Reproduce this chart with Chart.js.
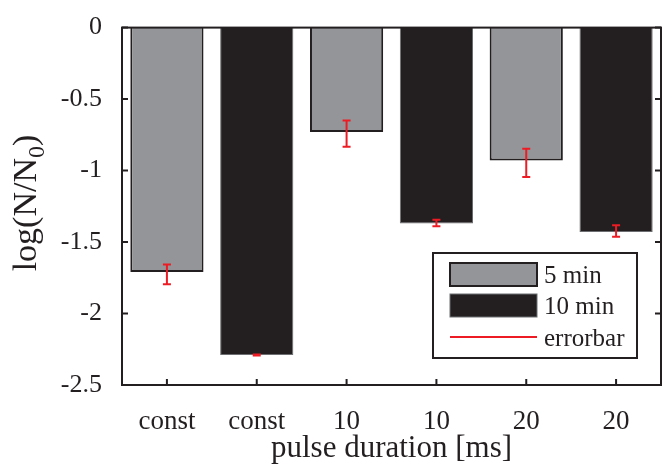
<!DOCTYPE html>
<html>
<head>
<meta charset="utf-8">
<script src="https://cdn.jsdelivr.net/npm/chart.js@4.4.1/dist/chart.umd.min.js"></script>
<style>
  html, body { margin: 0; padding: 0; background: #ffffff; }
  #wrap { width: 663px; height: 466px; }
</style>
</head>
<body>
<div id="wrap"><canvas id="c" width="663" height="466"></canvas></div>
<script>
// ---- data ----
const categories = ["const", "const", "10", "10", "20", "20"];
const values5min  = [-1.71, null, -0.73, null, -0.93, null];
const values10min = [null, -2.29, null, -1.37, null, -1.43];
const errTop    = [-1.657, -2.287, -0.650, -1.344, -0.848, -1.383];
const errBottom = [-1.795, -2.293, -0.834, -1.390, -1.045, -1.463];
const seriesLabels = ["5 min", "10 min"];
const errorLabel = "errorbar";
const yTicks = [0, -0.5, -1, -1.5, -2, -2.5];
const xTitle = "pulse duration [ms]";
const yTitleMain = "log(N/N";
const yTitleSub = "0";
const yTitleEnd = ")";

const INK = "#231f20";
const GRAY = "#939598";
const RED = "#ed1c24";
const FONT = "'Liberation Serif', 'Times New Roman', serif";

const framePlugin = {
  id: "frame",
  afterDatasetsDraw(chart) {
    const ctx = chart.ctx;
    const xs = chart.scales.x, ys = chart.scales.y;
    ctx.save();
    ctx.strokeStyle = RED;
    ctx.lineWidth = 2;
    for (let i = 0; i < categories.length; i++) {
      const x = xs.getPixelForValue(i);
      const y1 = ys.getPixelForValue(errTop[i]);
      const y2 = ys.getPixelForValue(errBottom[i]);
      ctx.beginPath();
      ctx.moveTo(x, y1); ctx.lineTo(x, y2);
      ctx.moveTo(x - 4, y1); ctx.lineTo(x + 4, y1);
      ctx.moveTo(x - 4, y2); ctx.lineTo(x + 4, y2);
      ctx.stroke();
    }
    ctx.restore();
  },
  afterDraw(chart) {
    const ctx = chart.ctx;
    const xs = chart.scales.x, ys = chart.scales.y;
    const a = chart.chartArea;
    ctx.save();
    // frame
    ctx.strokeStyle = INK;
    ctx.lineWidth = 2;
    ctx.strokeRect(a.left, a.top, a.right - a.left, a.bottom - a.top);
    // inward ticks
    ctx.beginPath();
    yTicks.forEach(v => {
      const y = ys.getPixelForValue(v);
      ctx.moveTo(a.left, y); ctx.lineTo(a.left + 6, y);
      ctx.moveTo(a.right, y); ctx.lineTo(a.right - 6, y);
    });
    for (let i = 0; i < categories.length; i++) {
      const x = xs.getPixelForValue(i);
      ctx.moveTo(x, a.bottom); ctx.lineTo(x, a.bottom - 6);
    }
    ctx.stroke();

    // axis titles
    ctx.fillStyle = INK;
    ctx.font = "31px " + FONT;
    ctx.textAlign = "center";
    ctx.textBaseline = "alphabetic";
    ctx.fillText(xTitle, (a.left + a.right) / 2, 457);

    ctx.save();
    ctx.translate(36, 203);
    ctx.rotate(-Math.PI / 2);
    ctx.textAlign = "left";
    const fMain = "34px " + FONT, fSub = "24px " + FONT;
    ctx.font = fMain; const w1 = ctx.measureText(yTitleMain).width;
    const w3 = ctx.measureText(yTitleEnd).width;
    ctx.font = fSub; const w2 = ctx.measureText(yTitleSub).width;
    let x0 = -(w1 + w2 + w3) / 2;
    ctx.font = fMain; ctx.fillText(yTitleMain, x0, 0);
    ctx.font = fSub; ctx.fillText(yTitleSub, x0 + w1, 8);
    ctx.font = fMain; ctx.fillText(yTitleEnd, x0 + w1 + w2, 0);
    ctx.restore();

    // legend
    const lx = 433, ly = 253, lw = 204, lh = 105;
    ctx.fillStyle = "#ffffff";
    ctx.fillRect(lx, ly, lw, lh);
    ctx.strokeStyle = INK;
    ctx.lineWidth = 2;
    ctx.strokeRect(lx, ly, lw, lh);
    const ds = chart.data.datasets;
    const rows = [ly + 21, ly + 52, ly + 84];
    ctx.font = "25px " + FONT;
    ctx.textAlign = "left";
    ctx.textBaseline = "alphabetic";
    for (let k = 0; k < 2; k++) {
      ctx.fillStyle = ds[k].backgroundColor;
      ctx.fillRect(450, rows[k] - 11, 87, 23);
      ctx.strokeStyle = ds[k].borderColor;
      ctx.lineWidth = k === 0 ? 2 : 1;
      ctx.strokeRect(450, rows[k] - 11, 87, 23);
      ctx.fillStyle = INK;
      ctx.fillText(ds[k].label, 544, rows[k] + 9);
    }
    ctx.strokeStyle = RED;
    ctx.lineWidth = 2;
    ctx.beginPath();
    ctx.moveTo(450, rows[2]); ctx.lineTo(537, rows[2]);
    ctx.stroke();
    ctx.fillStyle = INK;
    ctx.fillText(errorLabel, 544, rows[2] + 9);
    ctx.restore();
  }
};

new Chart(document.getElementById("c"), {
  type: "bar",
  data: {
    labels: categories,
    datasets: [
      { label: seriesLabels[0], data: values5min, backgroundColor: GRAY, borderColor: INK, borderWidth: 2 },
      { label: seriesLabels[1], data: values10min, backgroundColor: INK, borderColor: "#6d6e71", borderWidth: 1 }
    ]
  },
  options: {
    responsive: false,
    devicePixelRatio: 1,
    animation: false,
    layout: { padding: { top: 21, right: 2, left: 0, bottom: 0 } },
    datasets: { bar: { grouped: false, categoryPercentage: 1, barPercentage: 0.815, skipNull: true } },
    plugins: { legend: { display: false }, tooltip: { enabled: false } },
    scales: {
      x: {
        grid: { display: false },
        border: { display: false },
        ticks: { color: INK, font: { family: FONT, size: 27 }, padding: 13, maxRotation: 0 },
        afterFit(s) { s.height = 81; }
      },
      y: {
        min: -2.5, max: 0,
        grid: { display: false },
        border: { display: false },
        afterBuildTicks(s) { s.ticks = yTicks.map(v => ({ value: v })); },
        ticks: { color: INK, font: { family: FONT, size: 26 }, padding: 12, callback: v => String(v) },
        afterFit(s) { s.width = 122; }
      }
    }
  },
  plugins: [framePlugin]
});
</script>
</body>
</html>
